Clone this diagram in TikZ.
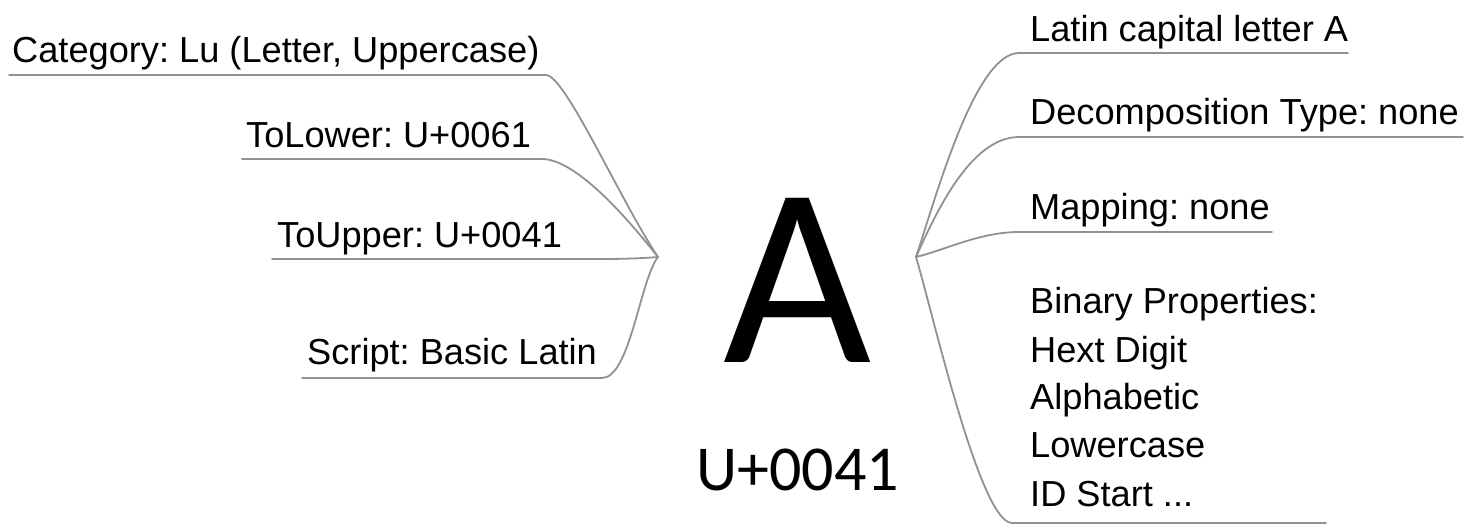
\documentclass[tikz,border=0pt]{standalone}
\usepackage{fontspec}
\setmainfont{Liberation Sans}
\newfontfamily\calfont{Carlito}
\definecolor{linegray}{RGB}{145,145,145}
\frenchspacing
\begin{document}
\begin{tikzpicture}[x=1pt,y=-1pt,
  lbl/.style={anchor=base west,inner sep=0pt,font=\fontsize{36.2}{40}\selectfont},
  branch/.style={draw=linegray,line width=1.8pt,line cap=round}]
\useasboundingbox (0,0) rectangle (1464,525);
% centre
\node[inner sep=0pt,anchor=base,font=\calfont\fontsize{256}{256}\selectfont] (bigA) at (797.5,362) {A};
\node[inner sep=0pt,anchor=base,font=\calfont\fontsize{64}{64}\selectfont] (code) at (797.5,490) {U+0041};
\coordinate (CL) at (658,257);
\coordinate (CR) at (916,257);
% left labels
\node[lbl] (cat) at (12,62) {Category: Lu (Letter, Uppercase)};
\node[lbl] (tolow) at (246,147) {ToLower: U+0061};
\node[lbl] (toup) at (277,247) {ToUpper: U+0041};
\node[lbl] (scr) at (307,364) {Script: Basic Latin};
\coordinate (catS) at (9,75);   \coordinate (catE) at (546,75);
\coordinate (lowS) at (242,159); \coordinate (lowE) at (542,159);
\coordinate (upS) at (272,259);  \coordinate (upE) at (600,259);
\coordinate (scrS) at (302,378); \coordinate (scrE) at (602,378);
\draw[branch] (catS) -- (catE) .. controls (565,75) and (620,200) .. (CL);
\draw[branch] (lowS) -- (lowE) .. controls (575,159) and (625,215) .. (CL);
\draw[branch] (upS) -- (upE) .. controls (630,259) and (645,258) .. (CL);
\draw[branch] (scrS) -- (scrE) .. controls (630,378) and (640,280) .. (CL);
% right labels
\node[lbl] (name) at (1030,41) {Latin capital letter A};
\node[lbl] (decomp) at (1030,124) {Decomposition Type: none};
\node[lbl] (map) at (1030,219) {Mapping: none};
\node[lbl] (bp1) at (1030,313) {Binary Properties:};
\node[lbl] (bp2) at (1030,362) {Hext Digit};
\node[lbl] (bp3) at (1030,409) {Alphabetic};
\node[lbl] (bp4) at (1030,457) {Lowercase};
\node[lbl] (bp5) at (1030,506) {ID Start ...};
\coordinate (nameS) at (1019,53);  \coordinate (nameE) at (1348,53);
\coordinate (decS) at (1019,137);  \coordinate (decE) at (1463,137);
\coordinate (mapS) at (1019,232);  \coordinate (mapE) at (1272,232);
\coordinate (bpS) at (1012,523);   \coordinate (bpE) at (1326,523);
\draw[branch] (CR) .. controls (936,197) and (975,53) .. (nameS) -- (nameE);
\draw[branch] (CR) .. controls (935,215) and (970,137) .. (decS) -- (decE);
\draw[branch] (CR) .. controls (945,250) and (980,232) .. (mapS) -- (mapE);
\draw[branch] (CR) .. controls (932,310) and (980,523) .. (bpS) -- (bpE);
\end{tikzpicture}
\end{document}
